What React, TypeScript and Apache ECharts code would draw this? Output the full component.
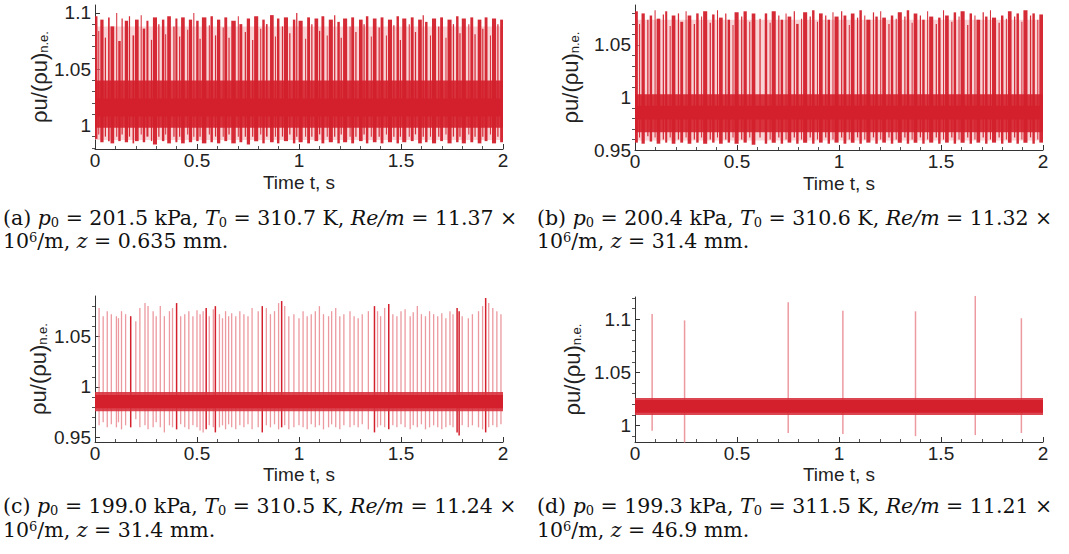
import React, { useEffect, useRef } from "react";
import * as echarts from "echarts";

// ---------- data ----------
const aYLabels = [1, 1.05, 1.1];
const aYMinor = [0.98, 0.99, 1.01, 1.02, 1.03, 1.04, 1.06, 1.07, 1.08, 1.09];
const bYLabels = [0.95, 1, 1.05];
const bYMinor = [0.96, 0.97, 0.98, 0.99, 1.01, 1.02, 1.03, 1.04, 1.06, 1.07, 1.08];
const cYLabels = [0.95, 1, 1.05];
const cYMinor = [0.96, 0.97, 0.98, 0.99, 1.01, 1.02, 1.03, 1.04, 1.06, 1.07, 1.08];
const dYLabels = [1, 1.05, 1.1];
const dYMinor = [0.99, 1.01, 1.02, 1.03, 1.04, 1.06, 1.07, 1.08, 1.09, 1.11, 1.12];

// bands / haze: [t0, t1, lo, hi]
const aHaze = [[0, 2, 0.987, 1.088]];
const aBandOuter = [[0, 2, 0.998, 1.040]];
const aBandInner = [[0, 2, 1.008, 1.024]];
const bHaze = [[0, 2, 0.959, 1.074]];
const bBandOuter = [[0, 2, 0.967, 1.003]];
const bBandInner = [[0, 2, 0.979, 0.992]];
const cBandOuter = [[0, 2, 0.976, 0.995]];
const cBandInner = [[0, 2, 0.979, 0.992]];
const dBandOuter = [[0, 2, 1.010, 1.026]];
const dBandInner = [[0, 2, 1.012, 1.024]];

// bursts: [t0, t1, lo, hi]
const aBursts = [
  [0.000, 0.012, 0.988, 1.097], [0.016, 0.020, 0.992, 1.084], [0.026, 0.042, 0.985, 1.094],
  [0.048, 0.054, 0.990, 1.078], [0.064, 0.072, 0.986, 1.096], [0.076, 0.094, 0.984, 1.088],
  [0.104, 0.108, 0.990, 1.100], [0.114, 0.126, 0.986, 1.075], [0.130, 0.136, 0.992, 1.095],
  [0.146, 0.162, 0.985, 1.093], [0.166, 0.172, 0.990, 1.097], [0.184, 0.192, 0.984, 1.080],
  [0.196, 0.214, 0.986, 1.094], [0.224, 0.228, 0.992, 1.098], [0.234, 0.246, 0.985, 1.086],
  [0.252, 0.262, 0.990, 1.093], [0.274, 0.280, 0.986, 1.076], [0.284, 0.304, 0.983, 1.096],
  [0.310, 0.316, 0.990, 1.090], [0.328, 0.340, 0.986, 1.094], [0.344, 0.348, 0.992, 1.081],
  [0.354, 0.372, 0.984, 1.097], [0.384, 0.390, 0.990, 1.088], [0.394, 0.404, 0.985, 1.095],
  [0.412, 0.418, 0.990, 1.079], [0.422, 0.440, 0.984, 1.096], [0.452, 0.456, 0.992, 1.085],
  [0.460, 0.476, 0.985, 1.094], [0.482, 0.486, 0.990, 1.100], [0.496, 0.508, 0.986, 1.093],
  [0.512, 0.518, 0.990, 1.077], [0.524, 0.546, 0.984, 1.096], [0.558, 0.562, 0.992, 1.089],
  [0.566, 0.578, 0.985, 1.097], [0.588, 0.594, 0.990, 1.080], [0.598, 0.614, 0.984, 1.094],
  [0.626, 0.630, 0.990, 1.087], [0.634, 0.648, 0.986, 1.096], [0.654, 0.660, 0.992, 1.078],
  [0.668, 0.690, 0.984, 1.093], [0.700, 0.704, 0.990, 1.097], [0.708, 0.722, 0.985, 1.090],
  [0.734, 0.740, 0.990, 1.083], [0.744, 0.760, 0.983, 1.095], [0.770, 0.776, 0.990, 1.076],
  [0.780, 0.800, 0.986, 1.097], [0.810, 0.814, 0.992, 1.086], [0.820, 0.832, 0.984, 1.094],
  [0.838, 0.846, 0.990, 1.090], [0.858, 0.876, 0.985, 1.098], [0.882, 0.886, 0.990, 1.079],
  [0.892, 0.904, 0.984, 1.095], [0.916, 0.922, 0.990, 1.088], [0.926, 0.946, 0.986, 1.096],
  [0.952, 0.958, 0.992, 1.082], [0.970, 0.982, 0.984, 1.094], [0.986, 0.992, 0.990, 1.100],
  [0.998, 1.018, 0.985, 1.093], [1.030, 1.034, 0.990, 1.077], [1.040, 1.054, 0.984, 1.096],
  [1.060, 1.066, 0.990, 1.090], [1.076, 1.094, 0.986, 1.095], [1.098, 1.104, 0.992, 1.084],
  [1.110, 1.124, 0.984, 1.097], [1.136, 1.140, 0.990, 1.080], [1.146, 1.166, 0.985, 1.094],
  [1.172, 1.178, 0.990, 1.098], [1.188, 1.200, 0.984, 1.092], [1.204, 1.210, 0.992, 1.078],
  [1.216, 1.236, 0.985, 1.095], [1.248, 1.252, 0.990, 1.088], [1.256, 1.270, 0.984, 1.096],
  [1.276, 1.282, 0.990, 1.083], [1.294, 1.312, 0.986, 1.094], [1.316, 1.322, 0.992, 1.090],
  [1.328, 1.340, 0.984, 1.097], [1.352, 1.356, 0.990, 1.079], [1.362, 1.380, 0.985, 1.095],
  [1.390, 1.396, 0.990, 1.087], [1.400, 1.414, 0.984, 1.096], [1.426, 1.430, 0.992, 1.080],
  [1.436, 1.456, 0.985, 1.094], [1.462, 1.468, 0.990, 1.089], [1.478, 1.490, 0.984, 1.097],
  [1.494, 1.500, 0.990, 1.076], [1.506, 1.526, 0.985, 1.095], [1.538, 1.542, 0.990, 1.090],
  [1.548, 1.562, 0.986, 1.096], [1.568, 1.574, 0.992, 1.083], [1.584, 1.602, 0.984, 1.094],
  [1.606, 1.612, 0.990, 1.098], [1.618, 1.630, 0.985, 1.092], [1.642, 1.646, 0.990, 1.080],
  [1.652, 1.672, 0.984, 1.095], [1.682, 1.688, 0.990, 1.088], [1.692, 1.706, 0.986, 1.096],
  [1.718, 1.722, 0.992, 1.078], [1.728, 1.748, 0.984, 1.094], [1.754, 1.760, 0.990, 1.090],
  [1.770, 1.782, 0.985, 1.097], [1.786, 1.792, 0.990, 1.082], [1.798, 1.818, 0.984, 1.095],
  [1.830, 1.834, 0.992, 1.090], [1.840, 1.854, 0.985, 1.096], [1.860, 1.866, 0.990, 1.081],
  [1.876, 1.894, 0.984, 1.094], [1.898, 1.904, 0.990, 1.086], [1.910, 1.924, 0.986, 1.096],
  [1.936, 1.940, 0.992, 1.080], [1.946, 1.966, 0.984, 1.095], [1.972, 1.978, 0.990, 1.090],
  [1.986, 2.000, 0.985, 1.094],
];

const bBursts = [
  [0.000, 0.014, 0.957, 1.082], [0.020, 0.024, 0.962, 1.070], [0.032, 0.048, 0.956, 1.080],
  [0.060, 0.066, 0.963, 1.074], [0.072, 0.084, 0.958, 1.078], [0.096, 0.100, 0.962, 1.083],
  [0.106, 0.124, 0.956, 1.075], [0.136, 0.142, 0.960, 1.079], [0.148, 0.158, 0.957, 1.082],
  [0.170, 0.174, 0.962, 1.068], [0.180, 0.198, 0.956, 1.078], [0.210, 0.216, 0.960, 1.080],
  [0.222, 0.236, 0.957, 1.072], [0.248, 0.252, 0.962, 1.082], [0.258, 0.276, 0.956, 1.078],
  [0.288, 0.294, 0.960, 1.070], [0.300, 0.312, 0.957, 1.080], [0.324, 0.328, 0.962, 1.077],
  [0.334, 0.354, 0.956, 1.082], [0.366, 0.372, 0.960, 1.071], [0.378, 0.390, 0.957, 1.079],
  [0.402, 0.406, 0.962, 1.083], [0.412, 0.430, 0.956, 1.076], [0.442, 0.448, 0.960, 1.080],
  [0.454, 0.466, 0.957, 1.074], [0.478, 0.482, 0.962, 1.069], [0.488, 0.508, 0.956, 1.081],
  [0.520, 0.526, 0.960, 1.077], [0.532, 0.548, 0.957, 1.082], [0.560, 0.564, 0.962, 1.072],
  [0.572, 0.590, 0.955, 1.080], [0.610, 0.616, 0.962, 1.075], [0.636, 0.648, 0.956, 1.080],
  [0.660, 0.664, 0.960, 1.071], [0.670, 0.690, 0.957, 1.082], [0.702, 0.708, 0.962, 1.078],
  [0.714, 0.726, 0.956, 1.074], [0.738, 0.742, 0.960, 1.080], [0.748, 0.766, 0.957, 1.077],
  [0.778, 0.784, 0.962, 1.082], [0.790, 0.802, 0.956, 1.070], [0.814, 0.818, 0.960, 1.075],
  [0.824, 0.844, 0.957, 1.081], [0.856, 0.862, 0.962, 1.077], [0.868, 0.880, 0.956, 1.083],
  [0.892, 0.896, 0.960, 1.072], [0.902, 0.920, 0.957, 1.080], [0.932, 0.938, 0.962, 1.078],
  [0.944, 0.956, 0.956, 1.074], [0.968, 0.972, 0.960, 1.081], [0.978, 0.998, 0.957, 1.077],
  [1.010, 1.016, 0.962, 1.082], [1.022, 1.036, 0.956, 1.078], [1.048, 1.052, 0.960, 1.069],
  [1.058, 1.076, 0.957, 1.080], [1.088, 1.094, 0.962, 1.076], [1.100, 1.112, 0.956, 1.083],
  [1.124, 1.128, 0.960, 1.078], [1.134, 1.154, 0.957, 1.074], [1.166, 1.172, 0.962, 1.081],
  [1.178, 1.190, 0.956, 1.077], [1.202, 1.206, 0.960, 1.082], [1.212, 1.230, 0.957, 1.076],
  [1.242, 1.248, 0.962, 1.070], [1.254, 1.266, 0.956, 1.078], [1.278, 1.282, 0.960, 1.075],
  [1.288, 1.308, 0.957, 1.081], [1.320, 1.326, 0.962, 1.077], [1.332, 1.344, 0.956, 1.083],
  [1.356, 1.360, 0.960, 1.071], [1.366, 1.384, 0.957, 1.080], [1.396, 1.402, 0.962, 1.078],
  [1.408, 1.420, 0.956, 1.074], [1.432, 1.436, 0.960, 1.082], [1.442, 1.462, 0.957, 1.077],
  [1.474, 1.480, 0.962, 1.070], [1.486, 1.498, 0.956, 1.076], [1.510, 1.514, 0.960, 1.083],
  [1.520, 1.538, 0.957, 1.078], [1.550, 1.556, 0.962, 1.072], [1.562, 1.574, 0.956, 1.081],
  [1.586, 1.590, 0.960, 1.077], [1.596, 1.616, 0.957, 1.082], [1.628, 1.634, 0.962, 1.069],
  [1.640, 1.652, 0.956, 1.080], [1.664, 1.668, 0.960, 1.078], [1.674, 1.692, 0.957, 1.074],
  [1.704, 1.710, 0.962, 1.081], [1.716, 1.728, 0.956, 1.077], [1.740, 1.744, 0.960, 1.083],
  [1.750, 1.770, 0.957, 1.076], [1.782, 1.788, 0.962, 1.071], [1.794, 1.806, 0.956, 1.078],
  [1.818, 1.822, 0.960, 1.075], [1.828, 1.846, 0.957, 1.082], [1.858, 1.864, 0.962, 1.077],
  [1.870, 1.882, 0.956, 1.080], [1.894, 1.898, 0.960, 1.072], [1.904, 1.924, 0.957, 1.083],
  [1.936, 1.942, 0.962, 1.078], [1.948, 1.960, 0.956, 1.080], [1.972, 1.976, 0.960, 1.074],
  [1.982, 2.000, 0.957, 1.079],
];

// thin spikes: [t, lo, hi]
const cSpikes = [
  [0.020, 0.962, 1.078], [0.040, 0.965, 1.070], [0.060, 0.960, 1.075], [0.080, 0.963, 1.072],
  [0.105, 0.960, 1.070], [0.115, 0.965, 1.068], [0.130, 0.958, 1.075], [0.150, 0.962, 1.072],
  [0.200, 0.968, 1.065], [0.220, 0.960, 1.078], [0.245, 0.962, 1.083], [0.260, 0.958, 1.080],
  [0.285, 0.960, 1.075], [0.300, 0.965, 1.070], [0.320, 0.960, 1.080], [0.340, 0.955, 1.070],
  [0.365, 0.962, 1.075], [0.380, 0.960, 1.078], [0.420, 0.963, 1.070], [0.440, 0.960, 1.072],
  [0.460, 0.958, 1.075], [0.480, 0.962, 1.070], [0.500, 0.960, 1.076], [0.515, 0.957, 1.072],
  [0.530, 0.955, 1.075], [0.560, 0.962, 1.070], [0.580, 0.960, 1.077], [0.610, 0.960, 1.072],
  [0.625, 0.962, 1.068], [0.640, 0.958, 1.075], [0.655, 0.963, 1.070], [0.670, 0.960, 1.073],
  [0.690, 0.958, 1.070], [0.710, 0.962, 1.075], [0.730, 0.960, 1.072], [0.750, 0.963, 1.070],
  [0.770, 0.958, 1.078], [0.800, 0.960, 1.075], [0.840, 0.962, 1.078], [0.860, 0.960, 1.072],
  [0.880, 0.963, 1.075], [0.900, 0.958, 1.083], [0.930, 0.962, 1.080], [0.950, 0.958, 1.070],
  [0.975, 0.960, 1.072], [1.000, 0.962, 1.068], [1.020, 0.960, 1.075], [1.040, 0.958, 1.070],
  [1.060, 0.963, 1.072], [1.080, 0.960, 1.075], [1.100, 0.962, 1.080], [1.120, 0.958, 1.072],
  [1.145, 0.960, 1.070], [1.160, 0.963, 1.075], [1.180, 0.960, 1.078], [1.200, 0.958, 1.070],
  [1.220, 0.962, 1.072], [1.250, 0.960, 1.075], [1.270, 0.962, 1.070], [1.290, 0.960, 1.068],
  [1.310, 0.963, 1.072], [1.340, 0.958, 1.075], [1.385, 0.960, 1.075], [1.400, 0.962, 1.070],
  [1.420, 0.960, 1.078], [1.460, 0.962, 1.072], [1.480, 0.960, 1.070], [1.500, 0.963, 1.075],
  [1.520, 0.960, 1.077], [1.545, 0.958, 1.070], [1.560, 0.962, 1.074], [1.580, 0.960, 1.080],
  [1.600, 0.963, 1.072], [1.620, 0.958, 1.070], [1.640, 0.960, 1.075], [1.660, 0.962, 1.072],
  [1.680, 0.960, 1.070], [1.700, 0.958, 1.073], [1.720, 0.960, 1.068], [1.740, 0.962, 1.075],
  [1.755, 0.960, 1.072], [1.800, 0.962, 1.070], [1.830, 0.960, 1.068], [1.850, 0.962, 1.072],
  [1.880, 0.960, 1.075], [1.900, 0.958, 1.080], [1.930, 0.960, 1.083], [1.950, 0.962, 1.078],
  [1.970, 0.960, 1.075], [1.990, 0.963, 1.072],
];
const cDarkSpikes = [
  [0.175, 0.960, 1.070], [0.400, 0.958, 1.083], [0.545, 0.958, 1.078], [0.590, 0.955, 1.080],
  [0.820, 0.955, 1.080], [0.915, 0.960, 1.085], [1.370, 0.955, 1.080], [1.440, 0.958, 1.082],
  [1.775, 0.955, 1.078], [1.785, 0.952, 1.075], [1.915, 0.955, 1.088],
];

const dSpikes = [
  [0.084, 0.995, 1.105], [0.243, 0.984, 1.099], [0.751, 0.993, 1.116], [1.019, 0.992, 1.108],
  [1.375, 0.990, 1.1075], [1.668, 0.991, 1.122], [1.894, 0.993, 1.101],
];

const captionA1 = ["(a) ", "p", "0", " = 201.5 kPa, ", "T", "0", " = 310.7 K, ", "Re/m", " = 11.37 ×"];
const captionA2 = ["10", "6", "/m, ", "z", " = 0.635 mm."];
const captionB1 = ["(b) ", "p", "0", " = 200.4 kPa, ", "T", "0", " = 310.6 K, ", "Re/m", " = 11.32 ×"];
const captionB2 = ["10", "6", "/m, ", "z", " = 31.4 mm."];
const captionC1 = ["(c) ", "p", "0", " = 199.0 kPa, ", "T", "0", " = 310.5 K, ", "Re/m", " = 11.24 ×"];
const captionC2 = ["10", "6", "/m, ", "z", " = 31.4 mm."];
const captionD1 = ["(d) ", "p", "0", " = 199.3 kPa, ", "T", "0", " = 311.5 K, ", "Re/m", " = 11.21 ×"];
const captionD2 = ["10", "6", "/m, ", "z", " = 46.9 mm."];

// ---------- styles ----------
const DARK = "#d3202c";
const MID = "#d8323d";
const PINK = "#ec9aa0";
const HAZE = "#f2b0b5";
const SANS = "'Liberation Sans', Arial, sans-serif";
const SERIF = "'DejaVu Serif', 'Liberation Serif', serif";
const AX_FS = 19;

const line1Styles = ["n", "i", "s", "n", "i", "s", "n", "i", "n"];
const line2Styles = ["n", "u", "n", "i", "n"];

function richText(parts: string[], styles: string[]) {
  return parts.map((p, i) => `{${styles[i]}|${p}}`).join("");
}

const CAP_FS = 20.5;
const captionRich = {
  n: { fontFamily: SERIF, fontSize: CAP_FS, fill: "#111", color: "#111" },
  i: { fontFamily: SERIF, fontSize: CAP_FS, fontStyle: "italic", fill: "#111", color: "#111" },
  s: { fontFamily: SERIF, fontSize: 13, verticalAlign: "bottom", fill: "#111", color: "#111" },
  u: { fontFamily: SERIF, fontSize: 13, verticalAlign: "top", fill: "#111", color: "#111" },
};

const grids = [
  { left: 95, top: 5, width: 408, height: 144 },
  { left: 635, top: 5, width: 408, height: 145 },
  { left: 95, top: 296, width: 408, height: 146 },
  { left: 635, top: 297, width: 408, height: 145 },
];

function rectItem(color: string, opacity: number) {
  return (params: any, api: any) => {
    const p0 = api.coord([api.value(0), api.value(3)]);
    const p1 = api.coord([api.value(1), api.value(2)]);
    return {
      type: "rect",
      shape: { x: p0[0], y: p0[1], width: Math.max(p1[0] - p0[0], 1), height: p1[1] - p0[1] },
      style: { fill: color, opacity },
    };
  };
}
function spikeItem(color: string, width: number, opacity: number) {
  return (params: any, api: any) => {
    const p0 = api.coord([api.value(0), api.value(1)]);
    const p1 = api.coord([api.value(0), api.value(2)]);
    return {
      type: "line",
      shape: { x1: p0[0], y1: p0[1], x2: p1[0], y2: p1[1] },
      style: { stroke: color, lineWidth: width, opacity },
    };
  };
}

export default function App() {
  const ref = useRef<HTMLDivElement>(null);
  useEffect(() => {
    if (!ref.current) return;
    const chart = echarts.init(ref.current, undefined, { renderer: "svg" });

    const yCfg = [
      { min: 0.979, max: 1.107, labels: aYLabels, minor: aYMinor, nameGap: 45 },
      { min: 0.95, max: 1.088, labels: bYLabels, minor: bYMinor, nameGap: 54 },
      { min: 0.9455, max: 1.09, labels: cYLabels, minor: cYMinor, nameGap: 46 },
      { min: 0.9845, max: 1.121, labels: dYLabels, minor: dYMinor, nameGap: 52 },
    ];

    const xAxis: any[] = grids.map((_, i) => ({
      type: "value",
      gridIndex: i,
      min: 0,
      max: 2,
      interval: 0.5,
      name: "Time t, s",
      nameLocation: "middle",
      nameGap: i < 2 ? 24 : 23,
      nameMoveOverlap: false,
      nameTextStyle: { fontFamily: SANS, fontSize: AX_FS, color: "#222" },
      axisLine: { show: true, onZero: false, lineStyle: { color: "#333", width: 1 } },
      axisTick: { show: true, inside: true, length: 5, lineStyle: { color: "#333" } },
      minorTick: { show: true, splitNumber: 5, length: 3, lineStyle: { color: "#555" } },
      axisLabel: { fontFamily: SANS, fontSize: AX_FS, color: "#222", margin: 2, formatter: (v: number) => String(v) },
      splitLine: { show: false },
    }));

    const yAxis: any[] = [];
    yCfg.forEach((c, i) => {
      yAxis.push({
        type: "value",
        gridIndex: i,
        min: c.min,
        max: c.max,
        name: "{a|ρu/(ρu)}{b|n.e.}",
        nameLocation: "middle",
        nameRotate: 90,
        nameGap: c.nameGap,
        nameMoveOverlap: false,
        nameTextStyle: {
          rich: {
            a: { fontFamily: SANS, fontSize: 22, color: "#222" },
            b: { fontFamily: SANS, fontSize: 13, color: "#222", verticalAlign: "bottom" },
          },
        },
        axisLine: { show: true, onZero: false, lineStyle: { color: "#333", width: 1 } },
        axisTick: { show: true, inside: true, length: 5, customValues: c.labels, lineStyle: { color: "#333" } },
        axisLabel: { fontFamily: SANS, fontSize: AX_FS, color: "#222", margin: 4, customValues: c.labels, formatter: (v: number) => String(+v.toFixed(2)) },
        splitLine: { show: false },
      });
    });
    yCfg.forEach((c, i) => {
      yAxis.push({
        type: "value",
        gridIndex: i,
        min: c.min,
        max: c.max,
        axisLine: { show: false },
        axisTick: { show: true, inside: true, length: 3, customValues: c.minor, lineStyle: { color: "#555" } },
        axisLabel: { show: false },
        splitLine: { show: false },
      });
    });

    const series: any[] = [];
    const add = (gi: number, data: any[], renderItem: any, z: number, dims: "rect" | "spike") => {
      series.push({
        type: "custom",
        xAxisIndex: gi,
        yAxisIndex: gi,
        data,
        z,
        clip: false,
        silent: true,
        renderItem,
        encode: dims === "rect" ? { x: [0, 1], y: [2, 3] } : { x: 0, y: [1, 2] },
      });
    };
    // panel a
    add(0, aHaze, rectItem(HAZE, 0.55), 1, "rect");
    add(0, aBandOuter, rectItem(MID, 1), 3, "rect");
    add(0, aBursts, rectItem(DARK, 0.95), 4, "rect");
    add(0, aBandInner, rectItem(DARK, 1), 5, "rect");
    // panel b
    add(1, bHaze, rectItem(HAZE, 0.55), 1, "rect");
    add(1, bBandOuter, rectItem(MID, 1), 3, "rect");
    add(1, bBursts, rectItem(DARK, 0.95), 4, "rect");
    add(1, bBandInner, rectItem(DARK, 1), 5, "rect");
    // panel c
    add(2, cSpikes, spikeItem(PINK, 1.3, 1), 2, "spike");
    add(2, cDarkSpikes, spikeItem(DARK, 1.5, 1), 3, "spike");
    add(2, cBandOuter, rectItem(MID, 0.9), 4, "rect");
    add(2, cBandInner, rectItem(DARK, 1), 5, "rect");
    // panel d
    add(3, dSpikes, spikeItem(PINK, 1.5, 1), 2, "spike");
    add(3, dBandOuter, rectItem(MID, 0.9), 4, "rect");
    add(3, dBandInner, rectItem(DARK, 1), 5, "rect");

    const caption = (x: number, y: number, parts: string[], styles: string[]) => ({
      type: "text",
      x,
      y,
      style: {
        text: richText(parts, styles),
        rich: captionRich,
        fontFamily: SERIF,
        fontSize: CAP_FS,
        fill: "#111",
        verticalAlign: "middle",
      },
    });

    chart.setOption({
      animation: false,
      backgroundColor: "#fff",
      grid: grids.map((g) => ({ ...g, containLabel: false })),
      xAxis,
      yAxis,
      series,
      graphic: [
        caption(3, 218, captionA1, line1Styles),
        caption(3, 241, captionA2, line2Styles),
        caption(537, 218, captionB1, line1Styles),
        caption(537, 241, captionB2, line2Styles),
        caption(3, 506, captionC1, line1Styles),
        caption(3, 530, captionC2, line2Styles),
        caption(537, 506, captionD1, line1Styles),
        caption(537, 530, captionD2, line2Styles),
      ],
    });
    return () => chart.dispose();
  }, []);
  return (
    <div
      ref={ref}
      style={{ position: "fixed", left: 0, top: 0, width: 1069, height: 554, background: "#fff" }}
    />
  );
}
